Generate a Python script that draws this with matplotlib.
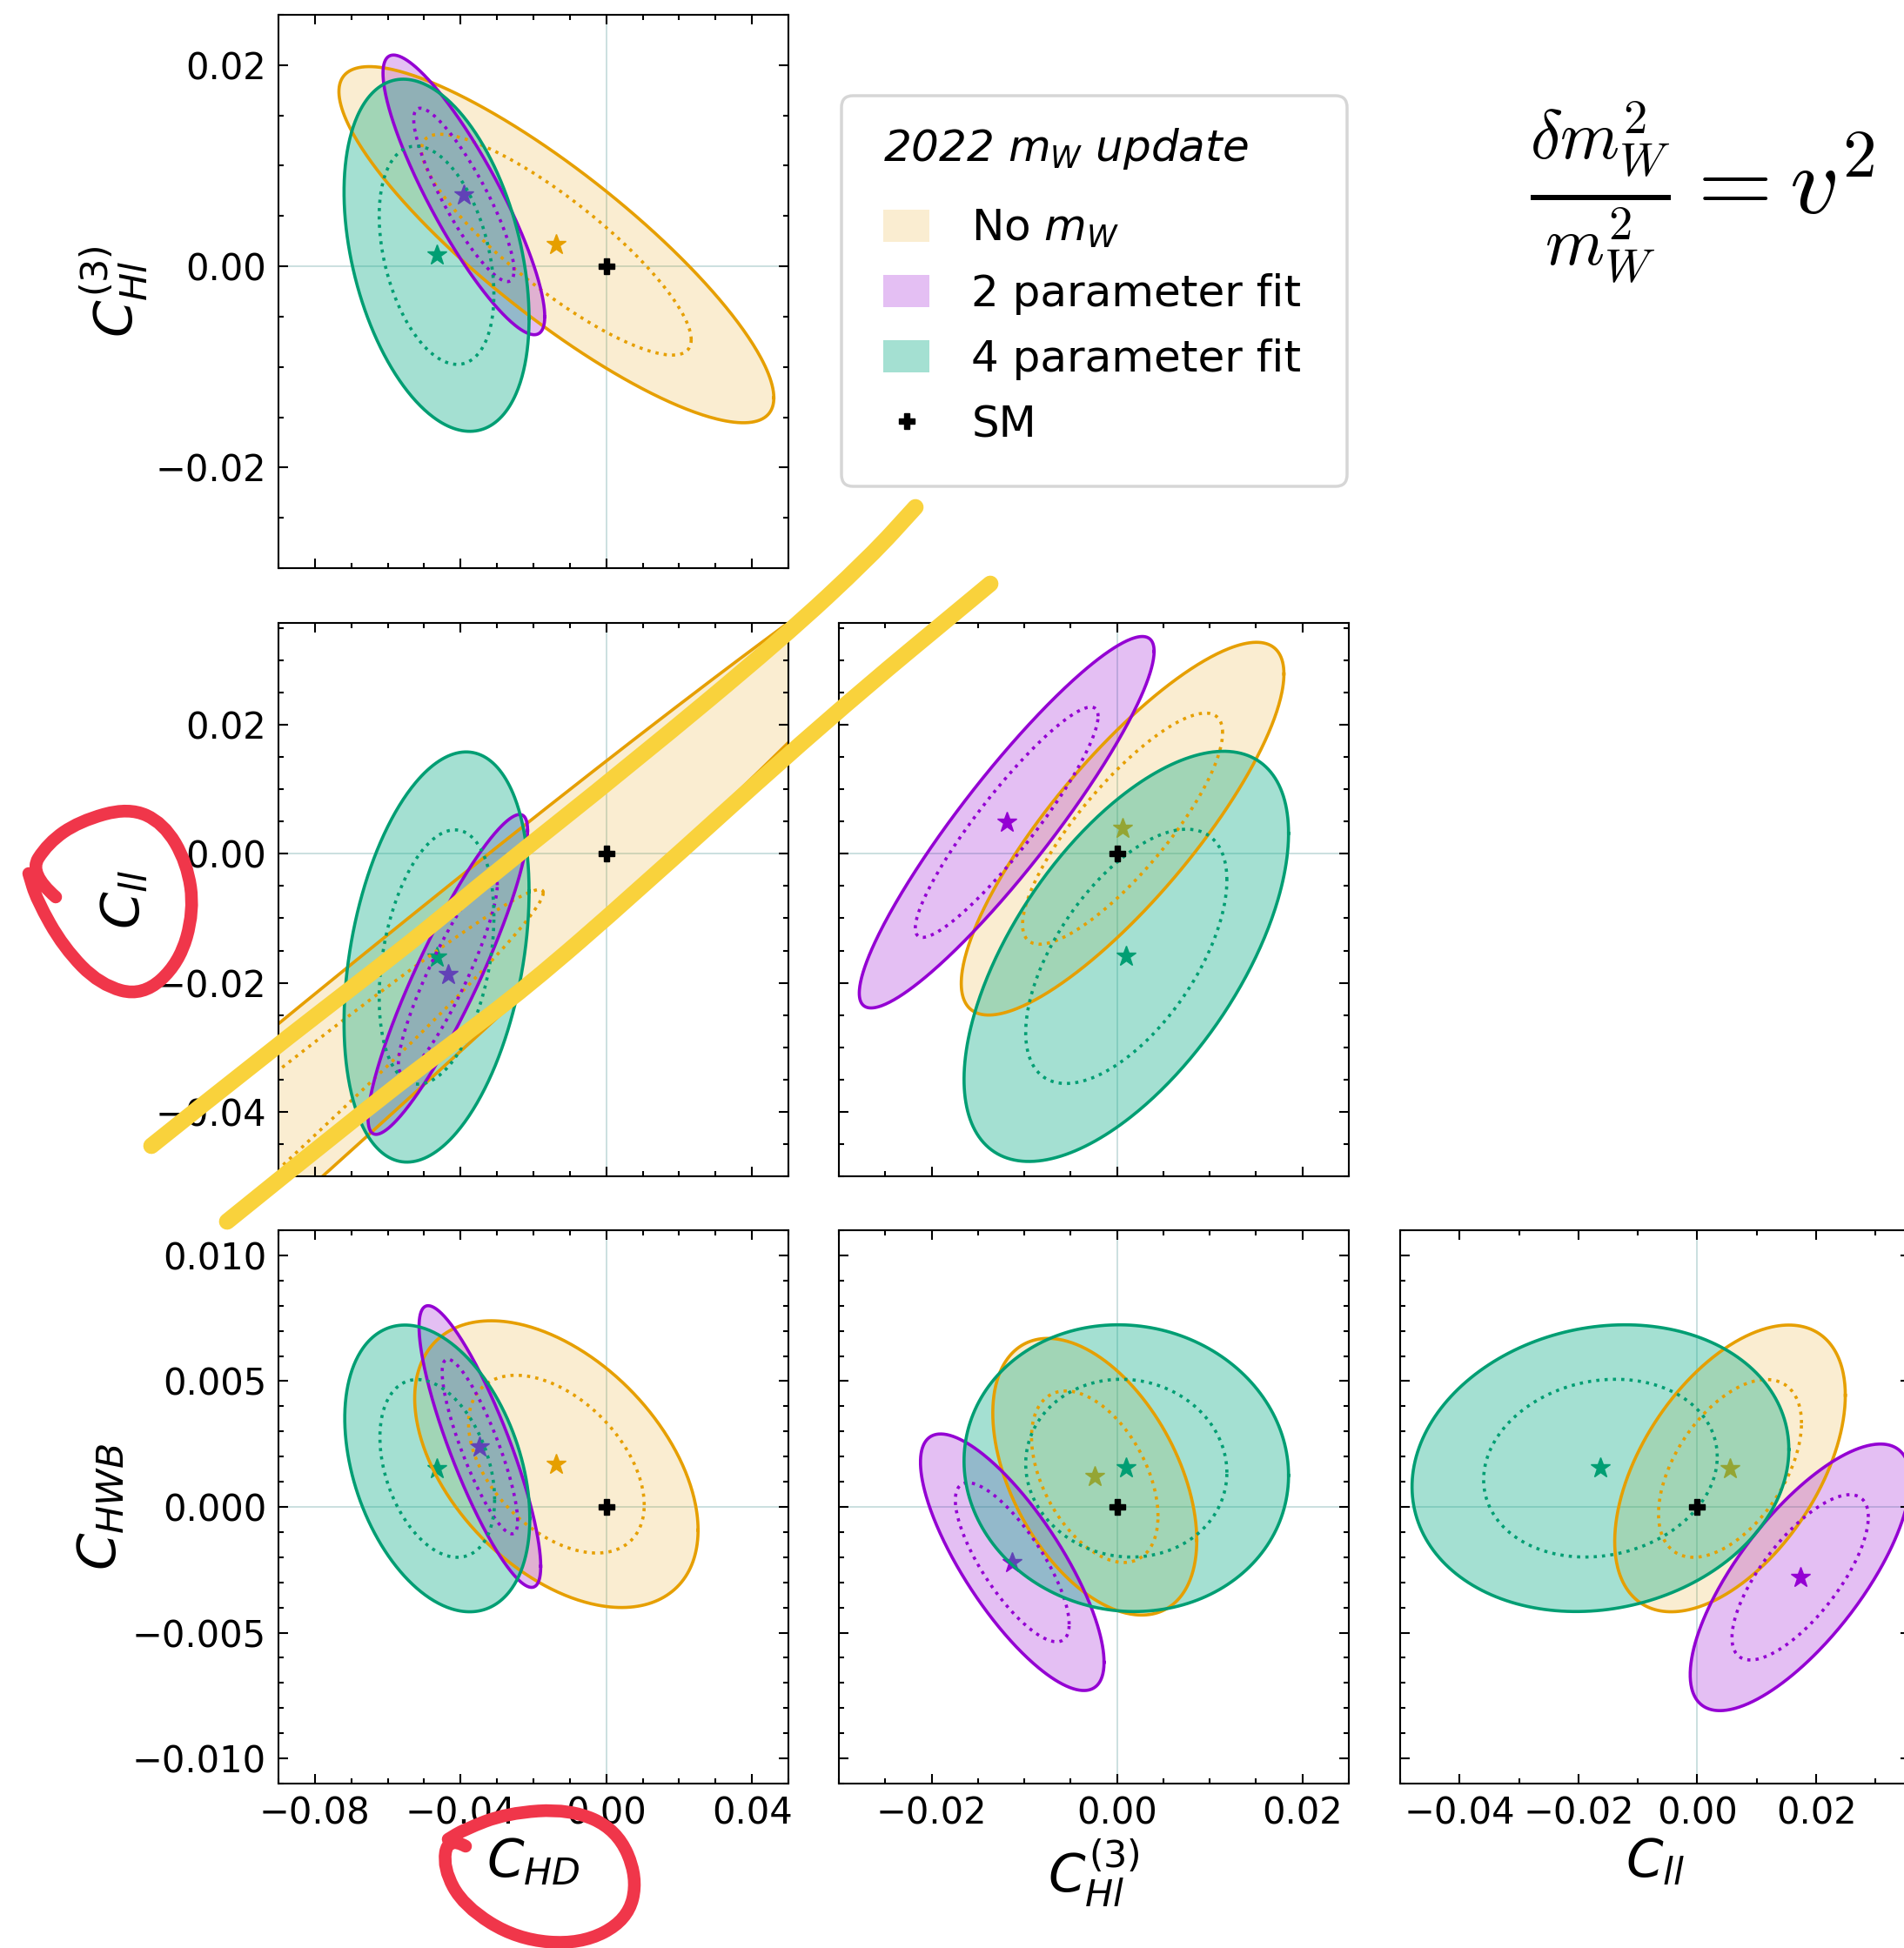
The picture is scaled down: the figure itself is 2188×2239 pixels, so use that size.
import numpy as np
import matplotlib
matplotlib.use("Agg")
import matplotlib.pyplot as plt
from matplotlib.lines import Line2D
from matplotlib.patches import Patch, PathPatch, FancyBboxPatch
from matplotlib.path import Path
from matplotlib.ticker import MultipleLocator
from matplotlib.transforms import Affine2D

# fits shown in every panel
fit_names = ['No $m_W$', '2 parameter fit', '4 parameter fit']
line_cols = ['#E69F00', '#9400D3', '#009E73']
fill_cols = ['#E69F00', '#9400D3', '#10B08A']
fill_alpha = [0.18, 0.25, 0.38]

# Wilson coefficients: C_HD, C_Hl3, C_ll, C_HWB
coef_labels = ['$C_{HD}$', '$C_{Hl}^{(3)}$', '$C_{ll}$', '$C_{HWB}$']
coef_lims = [(-0.09, 0.05), (-0.03, 0.025), (-0.05, 0.0358), (-0.011, 0.011)]
major_step = [0.04, 0.02, 0.02, 0.005]
minor_step_y = [0.01, 0.005, 0.005, 0.001]
minor_step_x = [0.01, 0.005, 0.01, 0.001]

# outer (95%) ellipses per panel, one row per fit:
# centre x, centre y, half-extent x, half-extent y, correlation
hd_hl3 = [[-0.0137, 0.00215, 0.0597, 0.0177, -0.86],
          [-0.0391, 0.0071, 0.0222, 0.0139, -0.87],
          [-0.0466, 0.0011, 0.0254, 0.0175, -0.36]]
hd_ll = [[-0.225, -0.1066, 0.335, 0.163, 0.995],
         [-0.0435, -0.0187, 0.0219, 0.0248, 0.90],
         [-0.0466, -0.0160, 0.0254, 0.0318, 0.32]]
hd_hwb = [[-0.0137, 0.0017, 0.0389, 0.0057, -0.46],
          [-0.0347, 0.0024, 0.0167, 0.0056, -0.85],
          [-0.0464, 0.00153, 0.0254, 0.0057, -0.35]]
hl3_ll = [[0.0006, 0.0039, 0.0174, 0.0289, 0.83],
          [-0.0119, 0.0049, 0.0159, 0.0288, 0.92],
          [0.0010, -0.0159, 0.0175, 0.0318, 0.60]]
hl3_hwb = [[-0.0024, 0.0012, 0.0110, 0.0055, -0.46],
           [-0.0113, -0.0022, 0.0099, 0.0051, -0.78],
           [0.0010, 0.00154, 0.0175, 0.0057, -0.05]]
ll_hwb = [[0.0055, 0.00153, 0.0194, 0.0057, 0.51],
          [0.0173, -0.0028, 0.0185, 0.0053, 0.73],
          [-0.0163, 0.00154, 0.0317, 0.0057, 0.13]]
inner_scale = 0.62   # 68% contour relative to the 95% one

# (y coefficient, x coefficient, ellipses)
panels = [(1, 0, hd_hl3), (2, 0, hd_ll), (3, 0, hd_hwb),
          (2, 1, hl3_ll), (3, 1, hl3_hwb), (3, 2, ll_hwb)]

# hand-drawn marks on top of the screenshot (figure pixels)
yellow_1 = [(174, 1317), (300, 1216), (440, 1108), (503, 1058), (560, 1010),
            (727, 877), (900, 733), (1000, 640), (1052, 583)]
yellow_2 = [(261, 1404), (424, 1272), (515, 1203), (606, 1134),
            (727, 1029), (950, 827), (1138, 671)]
red_1 = [(64, 1031), (33, 1004), (55, 969), (91, 944), (148, 928), (188, 946),
         (215, 992), (223, 1047), (206, 1107), (164, 1145), (115, 1132),
         (73, 1089), (42, 1034), (33, 1004)]
red_2 = [(535, 2122), (515, 2111), (509, 2147), (533, 2191), (594, 2229),
         (667, 2235), (721, 2207), (733, 2158), (709, 2103), (655, 2079),
         (582, 2084), (533, 2103), (515, 2114)]

W, H = 2188, 2239
fig = plt.figure(figsize=(W / 100, H / 100), dpi=100)
col_left = [320, 964, 1609]
row_top = [17, 716, 1414]
ax_w, ax_h = 586, 636

t = np.linspace(0, 2 * np.pi, 400)

for yi, xi, ells in panels:
    ax = fig.add_axes([col_left[xi] / W, 1 - (row_top[yi - 1] + ax_h) / H,
                       ax_w / W, ax_h / H])
    ax.axhline(0, color='#5F9EA0', alpha=0.35, lw=1.3, zorder=0.5)
    ax.axvline(0, color='#5F9EA0', alpha=0.35, lw=1.3, zorder=0.5)

    for k, (cx, cy, ex, ey, rho) in enumerate(ells):
        for s, ls in [(1.0, '-'), (inner_scale, ':')]:
            x = cx + s * ex * np.cos(t)
            y = cy + s * ey * (rho * np.cos(t) + np.sqrt(1 - rho**2) * np.sin(t))
            if ls == '-':
                ax.fill(x, y, color=fill_cols[k], alpha=fill_alpha[k], lw=0,
                        zorder=1)
            ax.plot(x, y, color=line_cols[k], lw=2.6, ls=ls, zorder=2)
        # best fit point sits with the fills, so later fills tint it
        ax.plot(cx, cy, marker='*', color=line_cols[k], ms=17, ls='none',
                zorder=1)

    # SM point
    ax.plot(0, 0, marker='P', color='k', ms=13, ls='none', zorder=10)

    ax.set_xlim(coef_lims[xi])
    ax.set_ylim(coef_lims[yi])
    ax.xaxis.set_major_locator(MultipleLocator(major_step[xi]))
    ax.xaxis.set_minor_locator(MultipleLocator(minor_step_x[xi]))
    ax.yaxis.set_major_locator(MultipleLocator(major_step[yi]))
    ax.yaxis.set_minor_locator(MultipleLocator(minor_step_y[yi]))
    ax.tick_params(which='both', direction='in', top=True, right=True,
                   labelsize=30, pad=10, width=1.5)
    ax.tick_params(which='major', length=8)
    ax.tick_params(which='minor', length=4.5)
    for sp in ax.spines.values():
        sp.set_linewidth(1.5)

    if xi == 0:
        ax.set_ylabel(coef_labels[yi], fontsize=44)
    else:
        ax.tick_params(labelleft=False)
    if yi == 3:
        ax.set_xlabel(coef_labels[xi], fontsize=44)
    else:
        ax.tick_params(labelbottom=False)

# legend: frame, title and entries
fig.add_artist(FancyBboxPatch((967 / W, 1 - 559 / H), 581 / W, 449 / H,
                              boxstyle='round,pad=0,rounding_size=0.006',
                              transform=fig.transFigure, facecolor='white',
                              edgecolor='0.84', lw=2.5, zorder=4))
fig.text(1015 / W, 1 - 171 / H, '2022 $m_W$ update', fontsize=36,
         style='italic', ha='left', va='center', zorder=6)
handles = [Patch(facecolor=fill_cols[k], alpha=fill_alpha[k], edgecolor='none')
           for k in range(3)]
handles.append(Line2D([], [], marker='P', color='k', ls='none', ms=13))
fig.legend(handles, fit_names + ['SM'], loc='upper left',
           bbox_to_anchor=(1015 / W, 1 - 239 / H), borderaxespad=0,
           borderpad=0, frameon=False, fontsize=36, labelspacing=0.54,
           handlelength=1.06, handleheight=0.76, handletextpad=0.97)

fig.text(1956 / W, 1 - 221 / H, r'$\frac{\delta m_W^2}{m_W^2} = v^2$',
         fontsize=80, math_fontfamily='cm', ha='center', va='center')


def stroke(pts):
    # quadratic curve through the midpoints of the drawn points
    p = np.asarray(pts, float)
    verts, codes = [p[0]], [Path.MOVETO]
    for i in range(1, len(p) - 1):
        verts += [p[i], (p[i] + p[i + 1]) / 2]
        codes += [Path.CURVE3, Path.CURVE3]
    verts.append(p[-1])
    codes.append(Path.LINETO)
    return Path(verts, codes)


# annotation strokes in pixel coordinates
px = Affine2D().scale(1 / W, -1 / H).translate(0, 1) + fig.transFigure
for pts, col, lw in [(yellow_1, '#F9D23C', 13.5), (yellow_2, '#F9D23C', 13.5),
                     (red_1, '#F0364A', 10.5), (red_2, '#F0364A', 10.5)]:
    fig.add_artist(PathPatch(stroke(pts), transform=px, fill=False,
                             edgecolor=col, lw=lw, capstyle='round',
                             joinstyle='round', zorder=30))

fig.savefig('out.png', dpi=100)
